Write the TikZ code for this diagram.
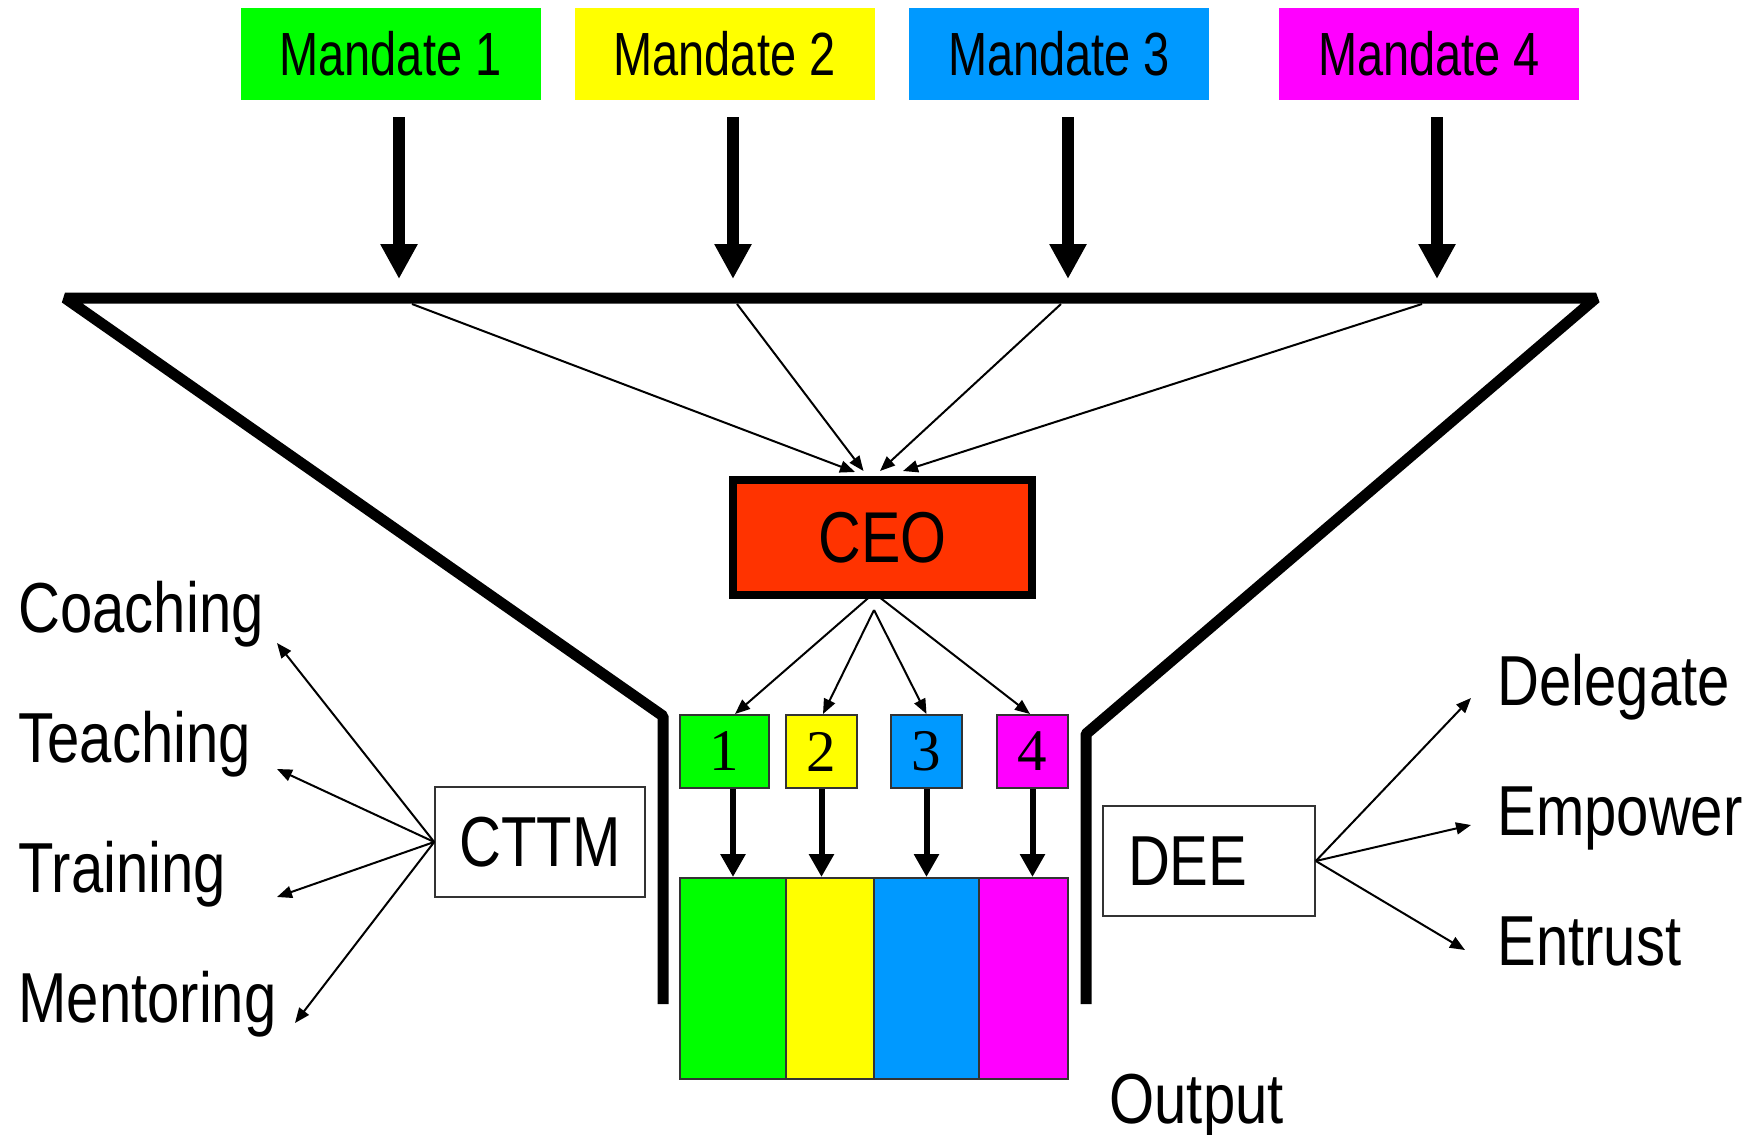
\documentclass[tikz,border=0pt]{standalone}
\usepackage{fontspec}
\setmainfont{Liberation Sans}[FakeStretch=0.82]
\newfontfamily\mandfont{Liberation Sans}[FakeStretch=0.77]
\newfontfamily\digitfont{Liberation Serif}
\usetikzlibrary{arrows.meta}
\definecolor{mgreen}{HTML}{00FF00}
\definecolor{myellow}{HTML}{FFFF00}
\definecolor{mblue}{HTML}{0099FF}
\definecolor{mmagenta}{HTML}{FF00FF}
\definecolor{ceored}{HTML}{FF3300}
\definecolor{edgegray}{HTML}{333333}
\begin{document}
\begin{tikzpicture}[x=0.5pt,y=-0.5pt,
  mandbox/.style={fill=#1, minimum width=150pt, minimum height=46pt, inner sep=0pt,
    font=\mandfont\fontsize{30.5pt}{36pt}\selectfont},
  numbox/.style={fill=#1, draw=edgegray, line width=1pt, minimum height=36.5pt, inner sep=0pt,
    font=\digitfont\fontsize{29.5pt}{34pt}\selectfont},
  outbox/.style={fill=#1, draw=edgegray, line width=1pt, minimum height=100.5pt, inner sep=0pt},
  plainbox/.style={draw=edgegray, line width=0.8pt, minimum height=55pt, inner sep=0pt,
    font=\fontsize{35.4pt}{40pt}\selectfont},
  lbl/.style={inner sep=0pt, anchor=base west, font=\fontsize{35.4pt}{40pt}\selectfont},
  funnel/.style={line width=5.5pt, line join=bevel},
  bigarrow/.style={line width=6pt, -{Triangle[width=17.5pt,length=17.5pt]}},
  midarrow/.style={line width=3pt, -{Triangle[width=12pt,length=11.5pt]}},
  thinarrow/.style={line width=1pt, -{Triangle[width=6pt,length=7.5pt]}},
]
\useasboundingbox (0,0) rectangle (1762,1135);

% mandates
\node[mandbox=mgreen]   (m1) at (390.5,54) {Mandate 1};
\node[mandbox=myellow]  (m2) at (724.5,54) {Mandate 2};
\node[mandbox=mblue]    (m3) at (1059,54)  {Mandate 3};
\node[mandbox=mmagenta] (m4) at (1429,54)  {Mandate 4};

% funnel outline
\coordinate (fl0) at (663,1004);
\coordinate (fl1) at (663,716);
\coordinate (ftl) at (65,298);
\coordinate (ftr) at (1596,298);
\coordinate (fr1) at (1086,734);
\coordinate (fr0) at (1086,1004);
\draw[funnel] (fl0) -- (fl1) -- (ftl) -- (ftr) -- (fr1) -- (fr0);

% mandate arrows onto the rim
\coordinate (a1) at (399,279);
\coordinate (a2) at (733,279);
\coordinate (a3) at (1068,279);
\coordinate (a4) at (1437,279);
\draw[bigarrow] ([xshift=4.25pt,yshift=-8.5pt]m1.south) -- (a1);
\draw[bigarrow] ([xshift=4.25pt,yshift=-8.5pt]m2.south) -- (a2);
\draw[bigarrow] ([xshift=4.5pt,yshift=-8.5pt]m3.south) -- (a3);
\draw[bigarrow] ([xshift=4pt,yshift=-8.5pt]m4.south) -- (a4);

% CEO
\node[fill=ceored, draw=black, line width=4pt, minimum width=149.5pt, minimum height=57.5pt,
  inner sep=0pt, font=\fontsize{36pt}{42pt}\selectfont] (ceo) at (882.5,537.5) {CEO};

% rim points feeding the CEO
\coordinate (r1) at (412,304);
\coordinate (r2) at (737,304);
\coordinate (r3) at (1061,304);
\coordinate (r4) at (1422,304);
\draw[thinarrow] (r1) -- ([xshift=-13.75pt,yshift=2pt]ceo.north);
\draw[thinarrow] (r2) -- ([xshift=-9.5pt,yshift=2.5pt]ceo.north);
\draw[thinarrow] (r3) -- ([xshift=-1.25pt,yshift=2.5pt]ceo.north);
\draw[thinarrow] (r4) -- ([xshift=10.25pt,yshift=2.5pt]ceo.north);

% numbered work streams
\node[numbox=mgreen,   minimum width=44.5pt] (b1) at (724.5,751.5)  {1};
\node[numbox=myellow,  minimum width=35.5pt] (b2) at (821.5,751.5)  {2};
\node[numbox=mblue,    minimum width=35.5pt] (b3) at (926.5,751.5)  {3};
\node[numbox=mmagenta, minimum width=35.5pt] (b4) at (1032.5,751.5) {4};

\draw[thinarrow] ([xshift=-4.25pt,yshift=3pt]ceo.south) -- ([xshift=5.25pt]b1.north);
\draw[thinarrow] ([xshift=-4.25pt,yshift=-5.5pt]ceo.south) -- ([xshift=0.75pt]b2.north);
\draw[thinarrow] ([xshift=-4.25pt,yshift=-5.5pt]ceo.south) -- (b3.north);
\draw[thinarrow] ([xshift=-4.25pt,yshift=3pt]ceo.south) -- ([xshift=-1.25pt]b4.north);

% output block
\node[outbox=mgreen,   minimum width=53pt]   (o1) at (733,978.5)    {};
\node[outbox=myellow,  minimum width=44pt]   (o2) at (830,978.5)    {};
\node[outbox=mblue,    minimum width=52.5pt] (o3) at (926.5,978.5)  {};
\node[outbox=mmagenta, minimum width=44.5pt] (o4) at (1023.5,978.5) {};

\draw[midarrow] ([xshift=4.25pt]b1.south) -- (o1.north);
\draw[midarrow] (b2.south) -- (b2.south |- o2.north);
\draw[midarrow] (b3.south) -- (b3.south |- o3.north);
\draw[midarrow] (b4.south) -- (b4.south |- o4.north);

\node[lbl] (out) at (1109,1123) {Output};

% left side: CTTM
\node[plainbox, minimum width=105pt] (cttm) at (540,842) {CTTM};
\node[lbl] (coach) at (18,632)  {Coaching};
\node[lbl] (teach) at (18,762)  {Teaching};
\node[lbl] (train) at (18,892)  {Training};
\node[lbl] (mentor) at (18,1022) {Mentoring};
\coordinate (tc) at (277,643);
\coordinate (tt) at (277,769);
\coordinate (tr) at (277,897);
\coordinate (tm) at (295,1023);
\draw[thinarrow] (cttm.west) -- (tc);
\draw[thinarrow] (cttm.west) -- (tt);
\draw[thinarrow] (cttm.west) -- (tr);
\draw[thinarrow] (cttm.west) -- (tm);

% right side: DEE
\node[plainbox, minimum width=106pt, text width=81pt, inner xsep=12.5pt, align=left] (dee) at (1209,861) {DEE};
\node[lbl] (deleg) at (1497,705) {Delegate};
\node[lbl] (empow) at (1497,835) {Empower};
\node[lbl] (entr)  at (1497,965) {Entrust};
\coordinate (td) at (1471,698);
\coordinate (te) at (1471,825);
\coordinate (tn) at (1465,950);
\draw[thinarrow] (dee.east) -- (td);
\draw[thinarrow] (dee.east) -- (te);
\draw[thinarrow] (dee.east) -- (tn);
\end{tikzpicture}
\end{document}
